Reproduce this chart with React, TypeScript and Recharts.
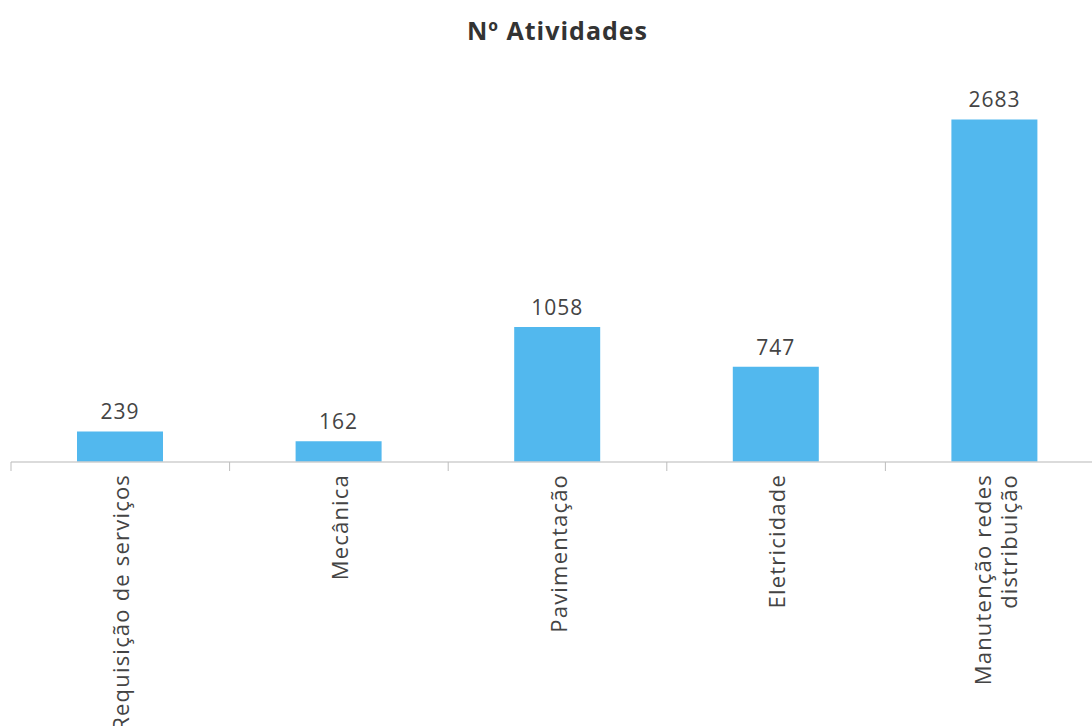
import React from "react";
import { BarChart, Bar, XAxis, YAxis, LabelList } from "recharts";

const categories = [
  "Requisição de serviços",
  "Mecânica",
  "Pavimentação",
  "Eletricidade",
  "Manutenção redes\ndistribuição",
];
const values = [239, 162, 1058, 747, 2683];
const title = "Nº Atividades";

const data = categories.map((c, i) => ({ name: c, value: values[i] }));

const FONT = "'Open Sans', 'DejaVu Sans', sans-serif";

const CategoryTick = (props: any) => {
  const { x, y, payload } = props;
  const lines: string[] = String(payload.value).split("\n");
  const off = payload.offset ?? 0;
  const lineGap = 26;
  const n = lines.length;
  return (
    <g transform={`translate(${x},${y})`}>
      <line x1={-off} x2={-off} y1={-8} y2={1} stroke="#bdbdbd" strokeWidth={1} />
      {lines.map((ln, i) => (
        <text
          key={i}
          transform="rotate(-90)"
          x={-4}
          y={(i - (n - 1) / 2) * lineGap}
          textAnchor="end"
          dominantBaseline="central"
          fontFamily={FONT}
          fontSize={22}
          letterSpacing={1.2}
          fill="#444"
        >
          {ln}
        </text>
      ))}
    </g>
  );
};

export default function App() {
  return (
    <div
      style={{
        position: "absolute",
        left: 0,
        top: 0,
        width: 1092,
        height: 726,
        overflow: "hidden",
        background: "#fff",
      }}
    >
      <div
        style={{
          position: "absolute",
          left: 0,
          top: 13,
          width: 1115,
          textAlign: "center",
          fontFamily: FONT,
          fontWeight: 700,
          fontSize: 25,
          letterSpacing: 1,
          color: "#333",
          lineHeight: "34px",
        }}
      >
        {title}
      </div>
      <BarChart
        width={1110}
        height={726}
        data={data}
        margin={{ top: 79, right: 6, bottom: 0, left: 11 }}
      >
        <YAxis hide domain={[0, 3000]} />
        <XAxis
          dataKey="name"
          interval={0}
          height={264}
          axisLine={{ stroke: "#cfcfcf", strokeWidth: 1.5 }}
          tickLine={false}
          tick={<CategoryTick />}
        />
        <Bar dataKey="value" fill="#52b8ee" barSize={86} isAnimationActive={false}>
          <LabelList
            dataKey="value"
            position="top"
            offset={12}
            fontFamily={FONT}
            fontSize={21}
            letterSpacing={1}
            fill="#444"
          />
        </Bar>
      </BarChart>
    </div>
  );
}
